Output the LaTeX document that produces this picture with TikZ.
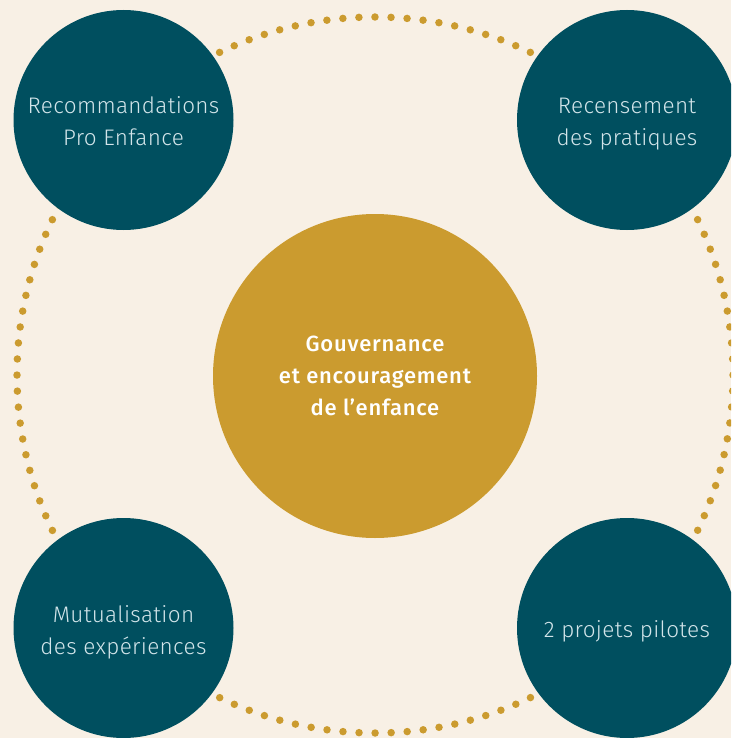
\documentclass[tikz,border=0pt]{standalone}
\usepackage{fontspec}
\setmainfont{Fira Sans}[UprightFont=* Light, UprightFeatures={LetterSpace=1.5}, BoldFont=* Medium, BoldFeatures={LetterSpace=3.5}]
\begin{document}
\begin{tikzpicture}[x=1pt,y=-1pt,
  bubble/.style={circle, fill=teal0, minimum size=220pt, inner sep=0pt, align=center,
    text=txtlight, font=\fontsize{22.5}{32}\selectfont},
  hub/.style={circle, fill=gold0, minimum size=324pt, inner sep=0pt, align=center,
    text=white, font=\bfseries\fontsize{22}{32}\selectfont},
  ring/.style={draw=gold0, line width=7.5pt, line cap=round, dash pattern=on 0pt off 16.07pt}]
\definecolor{bg0}{HTML}{F8F0E5}
\definecolor{teal0}{HTML}{004F5F}
\definecolor{gold0}{HTML}{CB9B2F}
\definecolor{txtlight}{HTML}{D3E5EA}
\useasboundingbox (0,0) rectangle (731,738);
\clip (0,0) rectangle (731,738);
\fill[bg0] (0,0) rectangle (731,738);
\coordinate (c) at (375,375);
\draw[ring] (c) circle[radius=358pt];
\node[hub] (hub) at (375,376) {Gouvernance\\et encouragement\\de l’enfance};
\node[bubble] (tl) at (123.5,120) {};
\node[bubble] (tr) at (627,120) {};
\node[bubble] (bl) at (123.5,628) {};
\node[bubble] (br) at (627,628) {};
\node[bubble, fill=none] (tlt) at (123.5,121) {Recommandations\\Pro Enfance};
\node[bubble, fill=none] (trt) at (627,124) {Recensement\\des pratiques};
\node[bubble, fill=none] (blt) at (123.5,632) {Mutualisation\\des expériences};
\node[bubble, fill=none] (brt) at (627,631) {2 projets pilotes};
\end{tikzpicture}
\end{document}
